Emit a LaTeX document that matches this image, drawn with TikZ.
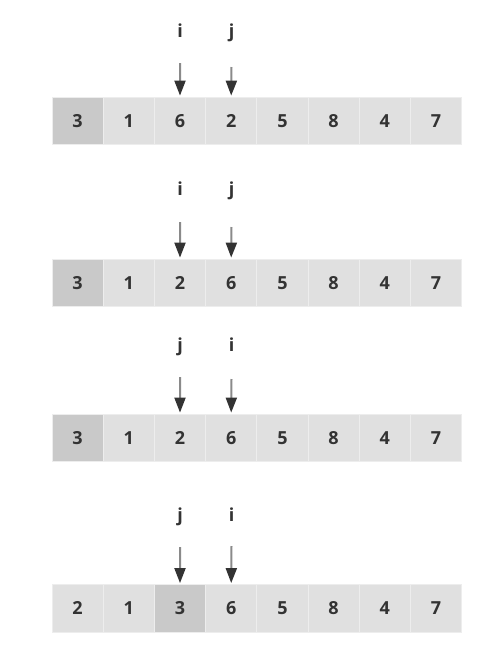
\documentclass[tikz,border=0pt]{standalone}
\usepackage{fontspec}
\setmainfont{Open Sans}
\usetikzlibrary{arrows.meta}
\definecolor{cellfill}{HTML}{E0E0E0}
\definecolor{pivotfill}{HTML}{C9C9C9}
\definecolor{cellline}{HTML}{EDEDED}
\definecolor{txt}{HTML}{333333}
\definecolor{shaft}{HTML}{8A8A8A}
\definecolor{head}{HTML}{333333}
\begin{document}
\begin{tikzpicture}[x=1pt,y=-1pt,
  cell/.style={draw=cellline,line width=0.8pt,fill=cellfill,minimum width=51.2pt,minimum height=47.5pt,inner sep=0pt,text=txt,font=\fontsize{18}{20}\selectfont\bfseries},
  pivot/.style={cell,fill=pivotfill},
  lbl/.style={anchor=base,text=txt,inner sep=0pt,font=\fontsize{18}{20}\selectfont\bfseries},
  ptr/.style={draw=shaft,line width=2pt,shorten >=1pt,-{Triangle[length=15pt,width=11pt,color=head]}}]
\useasboundingbox (0,0) rectangle (483,659);
% row tops: 97, 259, 414, 584
\foreach \r/\top/\vals/\piv in {1/97/{3,1,6,2,5,8,4,7}/1, 2/259/{3,1,2,6,5,8,4,7}/1, 3/414/{3,1,2,6,5,8,4,7}/1, 4/584.5/{2,1,3,6,5,8,4,7}/3}{
  \foreach \v [count=\k] in \vals {
    \ifnum\k=\piv
      \node[pivot] (r\r c\k) at ({52+51.2*(\k-0.5)},{\top+23.75}) {\v};
    \else
      \node[cell] (r\r c\k) at ({52+51.2*(\k-0.5)},{\top+23.75}) {\v};
    \fi
  }
}
% labels
\node[lbl] (l1i) at (180,37) {i};
\node[lbl] (l1j) at (231.5,37) {j};
\node[lbl] (l2i) at (180,195) {i};
\node[lbl] (l2j) at (231.5,195) {j};
\node[lbl] (l3j) at (180,351) {j};
\node[lbl] (l3i) at (231.5,351) {i};
\node[lbl] (l4j) at (180,521) {j};
\node[lbl] (l4i) at (231.5,521) {i};
% arrow starts
\coordinate (a1i) at (180,63);
\coordinate (a1j) at (231.5,67);
\coordinate (a2i) at (180,222);
\coordinate (a2j) at (231.5,227);
\coordinate (a3j) at (180,377);
\coordinate (a3i) at (231.5,379);
\coordinate (a4j) at (180,547);
\coordinate (a4i) at (231.5,546);
\draw[ptr] (a1i) -- (r1c3.north);
\draw[ptr] (a1j) -- (r1c4.north);
\draw[ptr] (a2i) -- (r2c3.north);
\draw[ptr] (a2j) -- (r2c4.north);
\draw[ptr] (a3j) -- (r3c3.north);
\draw[ptr] (a3i) -- (r3c4.north);
\draw[ptr] (a4j) -- (r4c3.north);
\draw[ptr] (a4i) -- (r4c4.north);
\end{tikzpicture}
\end{document}
